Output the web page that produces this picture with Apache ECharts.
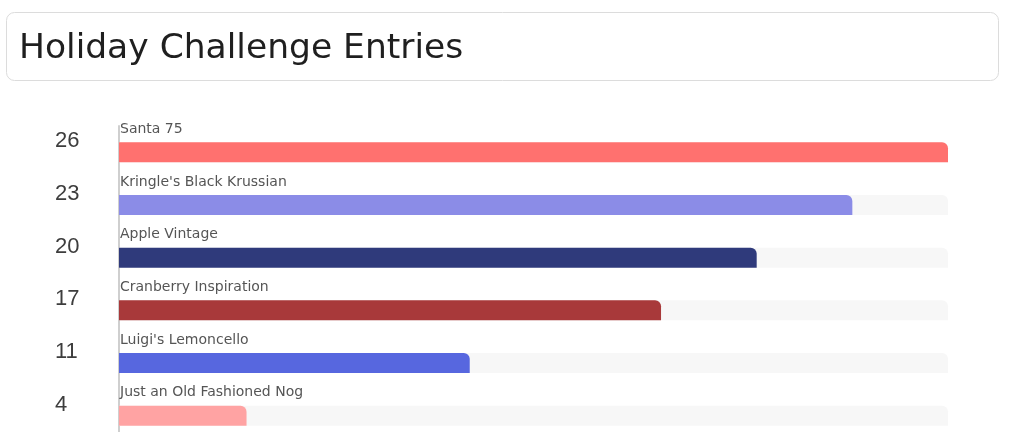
<!DOCTYPE html>
<html>
<head>
<meta charset="utf-8">
<script src="https://cdn.jsdelivr.net/npm/echarts@6/dist/echarts.min.js"></script>
<style>
html,body{margin:0;padding:0;background:#fff;overflow:hidden;}
#chart{width:1024px;height:442px;}
</style>
</head>
<body>
<div id="chart"></div>
<script>
const categories = ["Santa 75", "Kringle's Black Krussian", "Apple Vintage", "Cranberry Inspiration", "Luigi's Lemoncello", "Just an Old Fashioned Nog"];
const entries = [26, 23, 20, 17, 11, 4];
const tickLabels = ["26", "23", "20", "17", "11", "4"];
const barColors = ["#ff716f", "#8b8ce7", "#2f3a7b", "#a8393a", "#5767df", "#ffa3a3"];
const axisMax = 26;

const chart = echarts.init(document.getElementById('chart'), null, {renderer: 'canvas'});
chart.setOption({
  animation: false,
  backgroundColor: '#ffffff',
  graphic: [{
    type: 'rect',
    left: 6, top: 12,
    shape: {width: 992, height: 68, r: 8},
    style: {fill: '#ffffff', stroke: '#dcdcdc', lineWidth: 1},
    z: -1
  }],
  title: {
    text: 'Holiday Challenge Entries',
    left: 14, top: 27,
    textStyle: {fontFamily: 'DejaVu Sans', fontSize: 34.5, fontWeight: 'normal', color: '#1f1f1f'}
  },
  grid: {left: 119, right: 76, top: 126, bottom: 0},
  xAxis: {type: 'value', min: 0, max: axisMax, show: false},
  yAxis: {
    type: 'category',
    inverse: true,
    data: categories,
    offset: 10,
    axisLine: {show: true, lineStyle: {color: '#cfcfcf', width: 2}},
    axisTick: {show: false},
    axisLabel: {
      align: 'left',
      verticalAlign: 'bottom',
      margin: 54,
      fontFamily: 'Liberation Sans',
      fontSize: 22,
      color: '#3d3d3d',
      formatter: (v, i) => tickLabels[i]
    }
  },
  series: [{
    type: 'bar',
    data: entries.map((v, i) => ({value: v, itemStyle: {color: barColors[i]}})),
    barWidth: 20,
    showBackground: true,
    backgroundStyle: {color: '#f7f7f7', borderRadius: [0, 6, 0, 0]},
    itemStyle: {borderRadius: [0, 6, 0, 0]},
    label: {
      show: true,
      position: [1, -6],
      align: 'left',
      verticalAlign: 'bottom',
      fontFamily: 'DejaVu Sans',
      fontSize: 14,
      color: '#555555',
      formatter: (p) => categories[p.dataIndex]
    }
  }]
});
</script>
</body>
</html>
